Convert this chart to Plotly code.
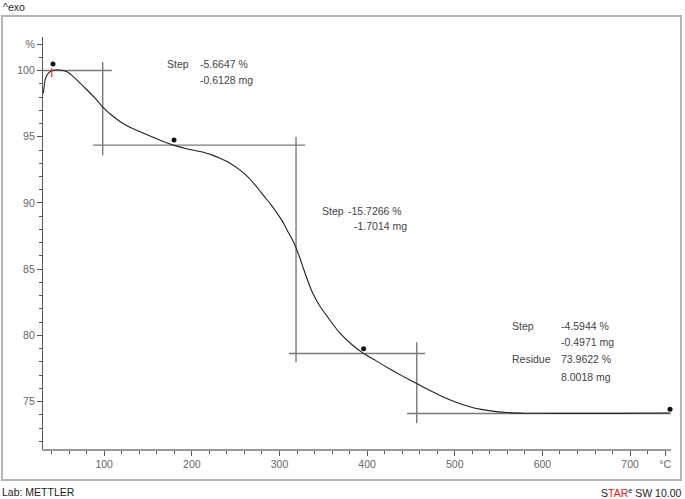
import plotly.graph_objects as go

# ---- data ----
temperature = [30.6, 32.5, 34.8, 38.2, 43.9, 49.6, 57.6, 66.7, 78.2, 89.6, 98.3, 110, 124, 138,
               152.4, 166, 180.8, 195, 209.4, 222, 232.2, 244, 255, 265, 274, 282, 289.2, 297,
               304.4, 310, 315.8, 319, 323, 329.2, 337.2, 346.2, 357.6, 369, 382.8, 395.4, 410,
               425, 440, 456.6, 470, 485, 500, 517, 530, 545, 560, 580, 620, 680, 745]
mass_pct = [98.28, 99.28, 99.66, 99.91, 100.04, 100.04, 99.91, 99.43, 98.68, 97.92, 97.24, 96.55,
            95.9, 95.45, 95.05, 94.68, 94.33, 94.08, 93.88, 93.65, 93.37, 92.98, 92.48, 91.9,
            91.22, 90.55, 89.97, 89.25, 88.5, 87.8, 87.1, 86.6, 85.9, 84.7, 83.3, 82.2, 81.15,
            80.17, 79.3, 78.67, 78.1, 77.5, 76.95, 76.37, 75.9, 75.42, 75.0, 74.62, 74.42,
            74.27, 74.18, 74.13, 74.12, 74.12, 74.15]

# evaluation construction lines (temperature pairs, percent pairs)
tangent_T = [[30, 108.6], [98.3, 98.3], [87.3, 329.2], [318.9, 318.9],
             [310.9, 466.1], [456.6, 456.6], [445.5, 748]]
tangent_P = [[100.0, 100.0], [100.64, 93.6], [94.37, 94.37], [94.98, 77.98],
             [78.64, 78.64], [79.49, 73.37], [74.11, 74.11]]

marker_T = [41.6, 179.7, 396.0, 745.6]
marker_P = [100.49, 94.75, 79.0, 74.43]

red_T = [[29.5, 29.5], [40.2, 40.2]]
red_P = [[98.45, 97.95], [100.19, 99.5]]

step1 = ["-5.6647 %", "-0.6128 mg"]
step2 = ["-15.7266 %", "-1.7014 mg"]
step3 = ["-4.5944 %", "-0.4971 mg", "73.9622 %", "8.0018 mg"]

y_ticks = [75, 80, 85, 90, 95, 100, 102]
y_ticktext = ["75", "80", "85", "90", "95", "100", "%"]
x_ticks = [100, 200, 300, 400, 500, 600, 700, 740]
x_ticktext = ["100", "200", "300", "400", "500", "600", "700", "°C"]

FONT = "Liberation Sans"

fig = go.Figure()

for tt, pp in zip(tangent_T, tangent_P):
    fig.add_trace(go.Scatter(x=tt, y=pp, mode="lines",
                             line=dict(color="#7a7a7a", width=1.4),
                             hoverinfo="skip", showlegend=False))

fig.add_trace(go.Scatter(x=temperature, y=mass_pct, mode="lines",
                         line=dict(color="#222222", width=1.1, shape="spline", smoothing=0.4),
                         showlegend=False))

for tt, pp in zip(red_T, red_P):
    fig.add_trace(go.Scatter(x=tt, y=pp, mode="lines", line=dict(color="#ff3030", width=1.2),
                             hoverinfo="skip", showlegend=False, cliponaxis=False))

fig.add_trace(go.Scatter(x=marker_T, y=marker_P, mode="markers",
                         marker=dict(color="#111111", size=5, symbol="circle"),
                         showlegend=False, cliponaxis=False))

txt = dict(family=FONT, size=10.5, color="#444444")


def ann(x, y, text):
    fig.add_annotation(x=x, y=y, xref="x", yref="y", text=text, showarrow=False,
                       xanchor="left", yanchor="middle", font=txt, xshift=-2)


ann(172.0, 100.49, "Step")
ann(209.4, 100.49, step1[0])
ann(209.4, 99.28, step1[1])

ann(348.2, 89.39, "Step")
ann(378.5, 89.39, step2[0])
ann(385.1, 88.25, step2[1])

ann(565, 80.70, "Step")
ann(621, 80.70, step3[0])
ann(621, 79.49, step3[1])
ann(565, 78.2, "Residue")
ann(621, 78.2, step3[2])
ann(621, 76.9, step3[3])

W, H = 685, 499
L, R, T, B = 43, 14, 37, 50
pw, ph = W - L - R, H - T - B


def px(xp):
    return (xp - L) / pw


def py(yp):
    return (H - B - yp) / ph


fig.add_annotation(x=px(1), y=py(7), xref="paper", yref="paper", text="^exo", showarrow=False,
                   xanchor="left", yanchor="middle", font=dict(family=FONT, size=10.5, color="#222"))
fig.add_annotation(x=px(0), y=py(492), xref="paper", yref="paper", text="Lab: METTLER",
                   showarrow=False, xanchor="left", yanchor="middle",
                   font=dict(family=FONT, size=10.5, color="#222"))
fig.add_annotation(x=px(684), y=py(492), xref="paper", yref="paper",
                   text="S<span style='color:#e02020'>TAR</span><sup>e</sup> SW 10.00",
                   showarrow=False, xanchor="right", yanchor="middle",
                   font=dict(family=FONT, size=10.5, color="#222"))

fig.add_shape(type="rect", xref="paper", yref="paper",
              x0=px(2), x1=px(681), y0=py(480), y1=py(16),
              line=dict(color="#b4b4b4", width=2), layer="below")

fig.update_layout(
    width=W, height=H,
    margin=dict(l=L, r=R, t=T, b=B),
    paper_bgcolor="white", plot_bgcolor="white",
    font=dict(family=FONT, size=10.5, color="#666666"),
    xaxis=dict(range=[30.2, 746.7], showgrid=False, zeroline=False,
               showline=True, linecolor="#9a9a9a", linewidth=1.5,
               tickmode="array", tickvals=x_ticks, ticktext=x_ticktext,
               ticks="outside", ticklen=5, tickcolor="#555",
               tickfont=dict(color="#666666"),
               minor=dict(tickmode="linear", tick0=0, dtick=20, ticks="outside",
                          ticklen=3, tickcolor="#555")),
    yaxis=dict(range=[71.43, 102.53], showgrid=False, zeroline=False,
               showline=True, linecolor="#555555", linewidth=1.2,
               tickmode="array", tickvals=y_ticks, ticktext=y_ticktext,
               ticks="outside", ticklen=5, tickcolor="#555",
               tickfont=dict(color="#666666"),
               minor=dict(tickmode="linear", tick0=0, dtick=1, ticks="outside",
                          ticklen=3, tickcolor="#555")),
)

fig.write_html("out.html", config={"displayModeBar": False},
               post_script="document.body.style.margin='0px';")
